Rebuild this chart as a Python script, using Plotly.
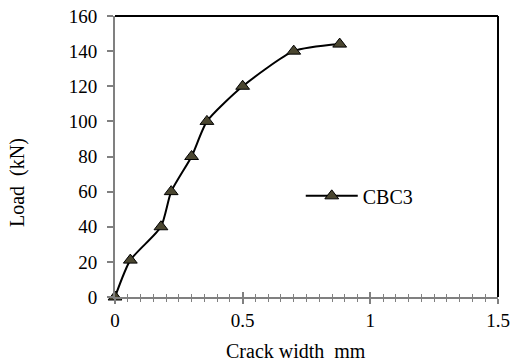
import plotly.graph_objects as go

# Crack width (mm) vs. applied load (kN) for specimen CBC3
crack_width = [0.0, 0.06, 0.18, 0.22, 0.30, 0.36, 0.50, 0.70, 0.88]
load_kn = [0, 21, 40, 60, 80, 100, 120, 140, 144]
series_name = "CBC3"

x_ticks = [0, 0.5, 1, 1.5]
x_tick_text = ["0", "0.5", "1", "1.5"]
y_ticks = [0, 20, 40, 60, 80, 100, 120, 140, 160]

FONT = "Liberation Serif"
GRAY = "#808080"

fig = go.Figure()
fig.add_trace(go.Scatter(
    x=crack_width, y=load_kn, name=series_name,
    mode="lines+markers",
    line=dict(color="black", width=2, shape="spline", smoothing=0.6),
    marker=dict(symbol="triangle-up", size=12, color="#4a4630",
                line=dict(color="black", width=1)),
    cliponaxis=False,
))
# invisible trace on the overlay axis so its inward ticks are drawn
fig.add_trace(go.Scatter(x=[0, 1.5], y=[0, 0], xaxis="x2", mode="markers",
                         marker=dict(opacity=0), showlegend=False, hoverinfo="skip"))

fig.update_layout(
    width=512, height=363,
    margin=dict(l=115, r=14, t=16, b=66),
    paper_bgcolor="white", plot_bgcolor="white",
    font=dict(family=FONT, size=19, color="black"),
    showlegend=True,
    legend=dict(x=0.485, y=0.36, xanchor="left", yanchor="middle",
                bgcolor="rgba(0,0,0,0)", itemwidth=52,
                font=dict(family=FONT, size=20)),
    xaxis=dict(
        range=[0, 1.5], tickvals=x_ticks, ticktext=x_tick_text,
        showgrid=False, zeroline=False, automargin=False,
        showline=True, linecolor=GRAY, linewidth=2,
        ticks="outside", ticklen=5, tickwidth=1.5, tickcolor=GRAY,
        minor=dict(dtick=0.05, ticks="outside", ticklen=3, tickwidth=1, tickcolor=GRAY),
        tickfont=dict(family=FONT, size=19),
    ),
    xaxis2=dict(
        overlaying="x", matches="x", range=[0, 1.5], side="bottom", anchor="y",
        tickvals=x_ticks, showticklabels=False, showgrid=False, zeroline=False,
        automargin=False,
        ticks="inside", ticklen=5, tickwidth=1.5, tickcolor=GRAY,
        minor=dict(dtick=0.05, ticks="inside", ticklen=3, tickwidth=1, tickcolor=GRAY),
    ),
    yaxis=dict(
        range=[0, 160], tickvals=y_ticks,
        showgrid=False, zeroline=False, automargin=False,
        showline=True, linecolor=GRAY, linewidth=2,
        ticks="outside", ticklen=6, tickwidth=1.5, tickcolor=GRAY,
        ticklabelstandoff=6,
        tickfont=dict(family=FONT, size=19),
    ),
    shapes=[
        dict(type="line", xref="paper", yref="paper", x0=0, x1=1, y0=1, y1=1,
             line=dict(color="black", width=2)),
        dict(type="line", xref="paper", yref="paper", x0=1, x1=1, y0=0, y1=1,
             line=dict(color="black", width=2)),
    ],
    annotations=[
        dict(text="Crack width\u00a0\u00a0mm", xref="paper", yref="paper",
             x=(296 - 115) / 383, y=-(351 - 297) / 281, xanchor="center", yanchor="middle",
             showarrow=False, font=dict(family=FONT, size=20)),
        dict(text="Load\u00a0\u00a0(kN)", xref="paper", yref="paper",
             x=-(115 - 17) / 383, y=(297 - 183) / 281, xanchor="center", yanchor="middle",
             textangle=-90, showarrow=False, font=dict(family=FONT, size=20)),
    ],
)

fig.write_html("out.html")
